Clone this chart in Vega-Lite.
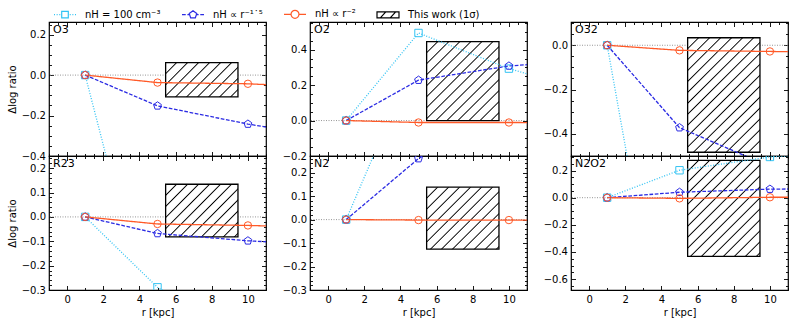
{
"$schema": "https://vega.github.io/schema/vega-lite/v6.json",
"background": "white",
"padding": {"left": 6, "top": 1, "right": 3, "bottom": 3},
"datasets": {
"models": [
{"p":"O3","s":"A","r":1,"v":0},{"p":"O3","s":"A","r":5,"v":-1.38},{"p":"O3","s":"A","r":10,"v":-1.9},
{"p":"O3","s":"B","r":1,"v":0},{"p":"O3","s":"B","r":5,"v":-0.152},{"p":"O3","s":"B","r":10,"v":-0.242},{"p":"O3","s":"B","r":15,"v":-0.317},
{"p":"O3","s":"C","r":1,"v":0},{"p":"O3","s":"C","r":5,"v":-0.037},{"p":"O3","s":"C","r":10,"v":-0.043},{"p":"O3","s":"C","r":15,"v":-0.063},
{"p":"O2","s":"A","r":1,"v":0},{"p":"O2","s":"A","r":5,"v":0.494},{"p":"O2","s":"A","r":10,"v":0.293},{"p":"O2","s":"A","r":15,"v":0.143},
{"p":"O2","s":"B","r":1,"v":0},{"p":"O2","s":"B","r":5,"v":0.228},{"p":"O2","s":"B","r":10,"v":0.308},{"p":"O2","s":"B","r":15,"v":0.343},
{"p":"O2","s":"C","r":1,"v":0},{"p":"O2","s":"C","r":5,"v":-0.011},{"p":"O2","s":"C","r":10,"v":-0.011},{"p":"O2","s":"C","r":15,"v":-0.012},
{"p":"O32","s":"A","r":1,"v":0},{"p":"O32","s":"A","r":5,"v":-1.82},{"p":"O32","s":"A","r":10,"v":-2.6},
{"p":"O32","s":"B","r":1,"v":0},{"p":"O32","s":"B","r":5,"v":-0.372},{"p":"O32","s":"B","r":10,"v":-0.547},
{"p":"O32","s":"C","r":1,"v":0},{"p":"O32","s":"C","r":5,"v":-0.023},{"p":"O32","s":"C","r":10,"v":-0.028},{"p":"O32","s":"C","r":15,"v":-0.033},
{"p":"R23","s":"A","r":1,"v":0},{"p":"R23","s":"A","r":5,"v":-0.289},{"p":"R23","s":"A","r":10,"v":-0.5},
{"p":"R23","s":"B","r":1,"v":0},{"p":"R23","s":"B","r":5,"v":-0.068},{"p":"R23","s":"B","r":10,"v":-0.098},{"p":"R23","s":"B","r":15,"v":-0.118},
{"p":"R23","s":"C","r":1,"v":0},{"p":"R23","s":"C","r":5,"v":-0.029},{"p":"R23","s":"C","r":10,"v":-0.035},{"p":"R23","s":"C","r":15,"v":-0.045},
{"p":"N2","s":"A","r":1,"v":0},{"p":"N2","s":"A","r":5,"v":0.72},{"p":"N2","s":"A","r":10,"v":1.2},
{"p":"N2","s":"B","r":1,"v":0},{"p":"N2","s":"B","r":5,"v":0.26},{"p":"N2","s":"B","r":10,"v":0.5},
{"p":"N2","s":"C","r":1,"v":0},{"p":"N2","s":"C","r":5,"v":-0.002},{"p":"N2","s":"C","r":10,"v":-0.002},{"p":"N2","s":"C","r":15,"v":-0.002},
{"p":"N2O2","s":"A","r":1,"v":0},{"p":"N2O2","s":"A","r":5,"v":0.202},{"p":"N2O2","s":"A","r":10,"v":0.3},{"p":"N2O2","s":"A","r":15,"v":0.34},
{"p":"N2O2","s":"B","r":1,"v":0},{"p":"N2O2","s":"B","r":5,"v":0.04},{"p":"N2O2","s":"B","r":10,"v":0.063},{"p":"N2O2","s":"B","r":15,"v":0.068},
{"p":"N2O2","s":"C","r":1,"v":0},{"p":"N2O2","s":"C","r":5,"v":-0.005},{"p":"N2O2","s":"C","r":10,"v":0.003},{"p":"N2O2","s":"C","r":15,"v":0.004}
],
"obs": [
{"p":"O3","r1":5.45,"r2":9.45,"lo":-0.108,"hi":0.062},
{"p":"O2","r1":5.45,"r2":9.45,"lo":0.0,"hi":0.445},
{"p":"O32","r1":5.45,"r2":9.45,"lo":-0.483,"hi":0.034},
{"p":"R23","r1":5.45,"r2":9.45,"lo":-0.082,"hi":0.134},
{"p":"N2","r1":5.45,"r2":9.45,"lo":-0.126,"hi":0.138},
{"p":"N2O2","r1":5.45,"r2":9.45,"lo":-0.432,"hi":0.275}
]
},
"columns": 3,
"spacing": {"row": 0, "column": 44},
"bounds": "flush",
"resolve": {"legend": {"color": "independent", "shape": "independent"}},
"concat": [
{"width":217,"height":134,
"layer":[
{"data":{"values":[{"v":0}]},"mark":{"type":"rule","stroke":"#8a8a8a","strokeWidth":0.9,"strokeDash":[1,1.5]},"encoding":{"y":{"field":"v","type":"quantitative","scale":{"domain":[-0.4,0.2625],"nice":false,"zero":false},"axis":null}}},
{"data":{"name":"obs"},"transform":[{"filter":"datum.p === 'O3'"}],"mark":{"type":"rect","stroke":"black","strokeWidth":1.3,"fill":{"gradient":"linear","x1":0,"y1":0,"x2":2.49,"y2":1.17,"stops":[{"offset":0,"color":"#fff"},{"offset":0.044,"color":"#fff"},{"offset":0.05,"color":"#000"},{"offset":0.056,"color":"#fff"},{"offset":0.094,"color":"#fff"},{"offset":0.1,"color":"#000"},{"offset":0.106,"color":"#fff"},{"offset":0.144,"color":"#fff"},{"offset":0.15,"color":"#000"},{"offset":0.156,"color":"#fff"},{"offset":0.194,"color":"#fff"},{"offset":0.2,"color":"#000"},{"offset":0.206,"color":"#fff"},{"offset":0.244,"color":"#fff"},{"offset":0.25,"color":"#000"},{"offset":0.256,"color":"#fff"},{"offset":0.294,"color":"#fff"},{"offset":0.3,"color":"#000"},{"offset":0.306,"color":"#fff"},{"offset":0.344,"color":"#fff"},{"offset":0.35,"color":"#000"},{"offset":0.356,"color":"#fff"},{"offset":0.394,"color":"#fff"},{"offset":0.4,"color":"#000"},{"offset":0.406,"color":"#fff"},{"offset":0.444,"color":"#fff"},{"offset":0.45,"color":"#000"},{"offset":0.456,"color":"#fff"},{"offset":0.494,"color":"#fff"},{"offset":0.5,"color":"#000"},{"offset":0.506,"color":"#fff"},{"offset":0.544,"color":"#fff"},{"offset":0.55,"color":"#000"},{"offset":0.556,"color":"#fff"},{"offset":0.594,"color":"#fff"},{"offset":0.6,"color":"#000"},{"offset":0.606,"color":"#fff"},{"offset":0.644,"color":"#fff"},{"offset":0.65,"color":"#000"},{"offset":0.656,"color":"#fff"},{"offset":0.694,"color":"#fff"},{"offset":0.7,"color":"#000"},{"offset":0.706,"color":"#fff"},{"offset":0.744,"color":"#fff"},{"offset":0.75,"color":"#000"},{"offset":0.756,"color":"#fff"},{"offset":0.794,"color":"#fff"},{"offset":0.8,"color":"#000"},{"offset":0.806,"color":"#fff"},{"offset":0.844,"color":"#fff"},{"offset":0.85,"color":"#000"},{"offset":0.856,"color":"#fff"},{"offset":0.894,"color":"#fff"},{"offset":0.9,"color":"#000"},{"offset":0.906,"color":"#fff"},{"offset":0.944,"color":"#fff"},{"offset":0.95,"color":"#000"},{"offset":0.956,"color":"#fff"},{"offset":1,"color":"#fff"}]}},
"encoding":{"x":{"field":"r1","type":"quantitative","scale":{"domain":[-1,11],"nice":false,"zero":false},"axis":{"orient":"top","values":[-1,-0.5,0,0.5,1,1.5,2,2.5,3,3.5,4,4.5,5,5.5,6,6.5,7,7.5,8,8.5,9,9.5,10,10.5,11],"labels":false,"title":null,"tickSize":{"condition":{"test":"datum.value % 2 === 0","value":-4.5},"value":-2.5}}},"x2":{"field":"r2"},
"y":{"field":"lo","type":"quantitative","scale":{"domain":[-0.4,0.2625],"nice":false,"zero":false},"axis":{"orient":"right","values":[-0.4,-0.35,-0.3,-0.25,-0.2,-0.15,-0.1,-0.05,0,0.05,0.1,0.15,0.2,0.25],"labels":false,"title":null,"tickSize":{"condition":{"test":"abs(datum.value*5-round(datum.value*5))<1e-6","value":-4.5},"value":-2.5}}},"y2":{"field":"hi"}}},
{"data":{"name":"models"},"transform":[{"filter":"datum.p === 'O3'"}],"mark":{"type":"line","clip":true,"strokeWidth":1.3},
"encoding":{"x":{"field":"r","type":"quantitative","scale":{"domain":[-1,11],"nice":false,"zero":false},"axis":{"orient":"bottom","values":[-1,-0.5,0,0.5,1,1.5,2,2.5,3,3.5,4,4.5,5,5.5,6,6.5,7,7.5,8,8.5,9,9.5,10,10.5,11],"labels":false,"title":null,"tickSize":{"condition":{"test":"datum.value % 2 === 0","value":-4.5},"value":-2.5}}},
"y":{"field":"v","type":"quantitative","scale":{"domain":[-0.4,0.2625],"nice":false,"zero":false},"axis":{"orient":"left","values":[-0.4,-0.35,-0.3,-0.25,-0.2,-0.15,-0.1,-0.05,0,0.05,0.1,0.15,0.2,0.25],"format":".1f","labelExpr":"abs(datum.value*5-round(datum.value*5))<1e-6 ? datum.label : ''","title":"Δlog ratio","tickSize":{"condition":{"test":"abs(datum.value*5-round(datum.value*5))<1e-6","value":-4.5},"value":-2.5}}},
"color":{"field":"s","type":"nominal","scale":{"domain":["A","B","C","D"],"range":["#33c3f3","#2b2be3","#ff5a28","#000000"]}},
"strokeDash":{"field":"s","type":"nominal","scale":{"domain":["A","B","C","D"],"range":[[1,1.65],[3.7,1.6],[1,0],[1,0]]},"legend":null}}},
{"data":{"name":"models"},"transform":[{"filter":"datum.p === 'O3'"}],"mark":{"type":"point","clip":true,"filled":false,"size":55,"strokeWidth":1,"opacity":1},
"encoding":{"x":{"field":"r","type":"quantitative","scale":{"domain":[-1,11],"nice":false,"zero":false},"axis":null},
"y":{"field":"v","type":"quantitative","scale":{"domain":[-0.4,0.2625],"nice":false,"zero":false},"axis":null},
"color":{"field":"s","type":"nominal","scale":{"domain":["A","B","C","D"],"range":["#33c3f3","#2b2be3","#ff5a28","#000000"]},"legend":{"orient":"none","legendX":4,"legendY":-20,"direction":"horizontal","title":null,"labelExpr":"datum.value === 'A' ? 'nH = 100 cm⁻³' : datum.value === 'B' ? 'nH ∝ r⁻¹˙⁵' : datum.value === 'C' ? 'nH ∝ r⁻²' : 'This work (1σ)'","symbolSize":484,"symbolStrokeWidth":1.2,"symbolFillColor":"transparent","labelOffset":8,"columnPadding":18,"labelFontSize":10,"padding":0,"encoding":{"symbols":{"shape":{"condition":[{"test":"datum.value === 'A'","value":"M-1,0H-0.91M-0.76,0H-0.67M-0.52,0H-0.43M0.43,0H0.52M0.67,0H0.76M0.91,0H1M-0.3,-0.3H0.3V0.3H-0.3Z"},{"test":"datum.value === 'B'","value":"M-1,0H-0.66M-0.51,0H-0.34M0.34,0H0.51M0.66,0H1M0,-0.36L0.342,-0.111L0.212,0.291L-0.212,0.291L-0.342,-0.111Z"},{"test":"datum.value === 'C'","value":"M-1,0H-0.36M0.36,0H1M0.36,0A0.36,0.36,0,1,1,-0.36,0A0.36,0.36,0,1,1,0.36,0Z"}],"value":"M-1,-0.27H1V0.27H-1ZM-0.7,0.27L-0.2,-0.27M0.2,0.27L0.7,-0.27"}}}}},
"shape":{"field":"s","type":"nominal","scale":{"domain":["A","B","C"],"range":["square","M0,-1.1L1.046,-0.34L0.647,0.89L-0.647,0.89L-1.046,-0.34Z","circle"]},"legend":null}}},
{"data":{"values":[{"t":"O3"}]},"mark":{"type":"text","align":"left","baseline":"top","dx":4,"dy":2,"fontSize":11,"color":"black"},"encoding":{"x":{"datum":-1,"type":"quantitative","scale":{"domain":[-1,11],"nice":false,"zero":false},"axis":null},"y":{"datum":0.2625,"type":"quantitative","scale":{"domain":[-0.4,0.2625],"nice":false,"zero":false},"axis":null},"text":{"field":"t"}}}
]},
{"width":217,"height":134,
"layer":[
{"data":{"values":[{"v":0}]},"mark":{"type":"rule","stroke":"#8a8a8a","strokeWidth":0.9,"strokeDash":[1,1.5]},"encoding":{"y":{"field":"v","type":"quantitative","scale":{"domain":[-0.2,0.556],"nice":false,"zero":false},"axis":null}}},
{"data":{"name":"obs"},"transform":[{"filter":"datum.p === 'O2'"}],"mark":{"type":"rect","stroke":"black","strokeWidth":1.3,"fill":{"gradient":"linear","x1":0,"y1":0,"x2":1.39,"y2":1.52,"stops":[{"offset":0,"color":"#fff"},{"offset":0.044,"color":"#fff"},{"offset":0.05,"color":"#000"},{"offset":0.056,"color":"#fff"},{"offset":0.094,"color":"#fff"},{"offset":0.1,"color":"#000"},{"offset":0.106,"color":"#fff"},{"offset":0.144,"color":"#fff"},{"offset":0.15,"color":"#000"},{"offset":0.156,"color":"#fff"},{"offset":0.194,"color":"#fff"},{"offset":0.2,"color":"#000"},{"offset":0.206,"color":"#fff"},{"offset":0.244,"color":"#fff"},{"offset":0.25,"color":"#000"},{"offset":0.256,"color":"#fff"},{"offset":0.294,"color":"#fff"},{"offset":0.3,"color":"#000"},{"offset":0.306,"color":"#fff"},{"offset":0.344,"color":"#fff"},{"offset":0.35,"color":"#000"},{"offset":0.356,"color":"#fff"},{"offset":0.394,"color":"#fff"},{"offset":0.4,"color":"#000"},{"offset":0.406,"color":"#fff"},{"offset":0.444,"color":"#fff"},{"offset":0.45,"color":"#000"},{"offset":0.456,"color":"#fff"},{"offset":0.494,"color":"#fff"},{"offset":0.5,"color":"#000"},{"offset":0.506,"color":"#fff"},{"offset":0.544,"color":"#fff"},{"offset":0.55,"color":"#000"},{"offset":0.556,"color":"#fff"},{"offset":0.594,"color":"#fff"},{"offset":0.6,"color":"#000"},{"offset":0.606,"color":"#fff"},{"offset":0.644,"color":"#fff"},{"offset":0.65,"color":"#000"},{"offset":0.656,"color":"#fff"},{"offset":0.694,"color":"#fff"},{"offset":0.7,"color":"#000"},{"offset":0.706,"color":"#fff"},{"offset":0.744,"color":"#fff"},{"offset":0.75,"color":"#000"},{"offset":0.756,"color":"#fff"},{"offset":0.794,"color":"#fff"},{"offset":0.8,"color":"#000"},{"offset":0.806,"color":"#fff"},{"offset":0.844,"color":"#fff"},{"offset":0.85,"color":"#000"},{"offset":0.856,"color":"#fff"},{"offset":0.894,"color":"#fff"},{"offset":0.9,"color":"#000"},{"offset":0.906,"color":"#fff"},{"offset":0.944,"color":"#fff"},{"offset":0.95,"color":"#000"},{"offset":0.956,"color":"#fff"},{"offset":1,"color":"#fff"}]}},
"encoding":{"x":{"field":"r1","type":"quantitative","scale":{"domain":[-1,11],"nice":false,"zero":false},"axis":{"orient":"top","values":[-1,-0.5,0,0.5,1,1.5,2,2.5,3,3.5,4,4.5,5,5.5,6,6.5,7,7.5,8,8.5,9,9.5,10,10.5,11],"labels":false,"title":null,"tickSize":{"condition":{"test":"datum.value % 2 === 0","value":-4.5},"value":-2.5}}},"x2":{"field":"r2"},
"y":{"field":"lo","type":"quantitative","scale":{"domain":[-0.2,0.556],"nice":false,"zero":false},"axis":{"orient":"right","values":[-0.2,-0.15,-0.1,-0.05,0,0.05,0.1,0.15,0.2,0.25,0.3,0.35,0.4,0.45,0.5,0.55],"labels":false,"title":null,"tickSize":{"condition":{"test":"abs(datum.value*5-round(datum.value*5))<1e-6","value":-4.5},"value":-2.5}}},"y2":{"field":"hi"}}},
{"data":{"name":"models"},"transform":[{"filter":"datum.p === 'O2'"}],"mark":{"type":"line","clip":true,"strokeWidth":1.3},
"encoding":{"x":{"field":"r","type":"quantitative","scale":{"domain":[-1,11],"nice":false,"zero":false},"axis":{"orient":"bottom","values":[-1,-0.5,0,0.5,1,1.5,2,2.5,3,3.5,4,4.5,5,5.5,6,6.5,7,7.5,8,8.5,9,9.5,10,10.5,11],"labels":false,"title":null,"tickSize":{"condition":{"test":"datum.value % 2 === 0","value":-4.5},"value":-2.5}}},
"y":{"field":"v","type":"quantitative","scale":{"domain":[-0.2,0.556],"nice":false,"zero":false},"axis":{"orient":"left","values":[-0.2,-0.15,-0.1,-0.05,0,0.05,0.1,0.15,0.2,0.25,0.3,0.35,0.4,0.45,0.5,0.55],"format":".1f","labelExpr":"abs(datum.value*5-round(datum.value*5))<1e-6 ? datum.label : ''","title":null,"tickSize":{"condition":{"test":"abs(datum.value*5-round(datum.value*5))<1e-6","value":-4.5},"value":-2.5}}},
"color":{"field":"s","type":"nominal","scale":{"domain":["A","B","C","D"],"range":["#33c3f3","#2b2be3","#ff5a28","#000000"]},"legend":null},
"strokeDash":{"field":"s","type":"nominal","scale":{"domain":["A","B","C","D"],"range":[[1,1.65],[3.7,1.6],[1,0],[1,0]]},"legend":null}}},
{"data":{"name":"models"},"transform":[{"filter":"datum.p === 'O2'"}],"mark":{"type":"point","clip":true,"filled":false,"size":55,"strokeWidth":1,"opacity":1},
"encoding":{"x":{"field":"r","type":"quantitative","scale":{"domain":[-1,11],"nice":false,"zero":false},"axis":null},
"y":{"field":"v","type":"quantitative","scale":{"domain":[-0.2,0.556],"nice":false,"zero":false},"axis":null},
"color":{"field":"s","type":"nominal","scale":{"domain":["A","B","C","D"],"range":["#33c3f3","#2b2be3","#ff5a28","#000000"]},"legend":null},
"shape":{"field":"s","type":"nominal","scale":{"domain":["A","B","C"],"range":["square","M0,-1.1L1.046,-0.34L0.647,0.89L-0.647,0.89L-1.046,-0.34Z","circle"]},"legend":null}}},
{"data":{"values":[{"t":"O2"}]},"mark":{"type":"text","align":"left","baseline":"top","dx":4,"dy":2,"fontSize":11,"color":"black"},"encoding":{"x":{"datum":-1,"type":"quantitative","scale":{"domain":[-1,11],"nice":false,"zero":false},"axis":null},"y":{"datum":0.556,"type":"quantitative","scale":{"domain":[-0.2,0.556],"nice":false,"zero":false},"axis":null},"text":{"field":"t"}}}
]},
{"width":217,"height":134,
"layer":[
{"data":{"values":[{"v":0}]},"mark":{"type":"rule","stroke":"#8a8a8a","strokeWidth":0.9,"strokeDash":[1,1.5]},"encoding":{"y":{"field":"v","type":"quantitative","scale":{"domain":[-0.5,0.105],"nice":false,"zero":false},"axis":null}}},
{"data":{"name":"obs"},"transform":[{"filter":"datum.p === 'O32'"}],"mark":{"type":"rect","stroke":"black","strokeWidth":1.3,"fill":{"gradient":"linear","x1":0,"y1":0,"x2":0.86,"y2":1.37,"stops":[{"offset":0,"color":"#fff"},{"offset":0.044,"color":"#fff"},{"offset":0.05,"color":"#000"},{"offset":0.056,"color":"#fff"},{"offset":0.094,"color":"#fff"},{"offset":0.1,"color":"#000"},{"offset":0.106,"color":"#fff"},{"offset":0.144,"color":"#fff"},{"offset":0.15,"color":"#000"},{"offset":0.156,"color":"#fff"},{"offset":0.194,"color":"#fff"},{"offset":0.2,"color":"#000"},{"offset":0.206,"color":"#fff"},{"offset":0.244,"color":"#fff"},{"offset":0.25,"color":"#000"},{"offset":0.256,"color":"#fff"},{"offset":0.294,"color":"#fff"},{"offset":0.3,"color":"#000"},{"offset":0.306,"color":"#fff"},{"offset":0.344,"color":"#fff"},{"offset":0.35,"color":"#000"},{"offset":0.356,"color":"#fff"},{"offset":0.394,"color":"#fff"},{"offset":0.4,"color":"#000"},{"offset":0.406,"color":"#fff"},{"offset":0.444,"color":"#fff"},{"offset":0.45,"color":"#000"},{"offset":0.456,"color":"#fff"},{"offset":0.494,"color":"#fff"},{"offset":0.5,"color":"#000"},{"offset":0.506,"color":"#fff"},{"offset":0.544,"color":"#fff"},{"offset":0.55,"color":"#000"},{"offset":0.556,"color":"#fff"},{"offset":0.594,"color":"#fff"},{"offset":0.6,"color":"#000"},{"offset":0.606,"color":"#fff"},{"offset":0.644,"color":"#fff"},{"offset":0.65,"color":"#000"},{"offset":0.656,"color":"#fff"},{"offset":0.694,"color":"#fff"},{"offset":0.7,"color":"#000"},{"offset":0.706,"color":"#fff"},{"offset":0.744,"color":"#fff"},{"offset":0.75,"color":"#000"},{"offset":0.756,"color":"#fff"},{"offset":0.794,"color":"#fff"},{"offset":0.8,"color":"#000"},{"offset":0.806,"color":"#fff"},{"offset":0.844,"color":"#fff"},{"offset":0.85,"color":"#000"},{"offset":0.856,"color":"#fff"},{"offset":0.894,"color":"#fff"},{"offset":0.9,"color":"#000"},{"offset":0.906,"color":"#fff"},{"offset":0.944,"color":"#fff"},{"offset":0.95,"color":"#000"},{"offset":0.956,"color":"#fff"},{"offset":1,"color":"#fff"}]}},
"encoding":{"x":{"field":"r1","type":"quantitative","scale":{"domain":[-1,11],"nice":false,"zero":false},"axis":{"orient":"top","values":[-1,-0.5,0,0.5,1,1.5,2,2.5,3,3.5,4,4.5,5,5.5,6,6.5,7,7.5,8,8.5,9,9.5,10,10.5,11],"labels":false,"title":null,"tickSize":{"condition":{"test":"datum.value % 2 === 0","value":-4.5},"value":-2.5}}},"x2":{"field":"r2"},
"y":{"field":"lo","type":"quantitative","scale":{"domain":[-0.5,0.105],"nice":false,"zero":false},"axis":{"orient":"right","values":[-0.5,-0.45,-0.4,-0.35,-0.3,-0.25,-0.2,-0.15,-0.1,-0.05,0,0.05,0.1],"labels":false,"title":null,"tickSize":{"condition":{"test":"abs(datum.value*5-round(datum.value*5))<1e-6","value":-4.5},"value":-2.5}}},"y2":{"field":"hi"}}},
{"data":{"name":"models"},"transform":[{"filter":"datum.p === 'O32'"}],"mark":{"type":"line","clip":true,"strokeWidth":1.3},
"encoding":{"x":{"field":"r","type":"quantitative","scale":{"domain":[-1,11],"nice":false,"zero":false},"axis":{"orient":"bottom","values":[-1,-0.5,0,0.5,1,1.5,2,2.5,3,3.5,4,4.5,5,5.5,6,6.5,7,7.5,8,8.5,9,9.5,10,10.5,11],"labels":false,"title":null,"tickSize":{"condition":{"test":"datum.value % 2 === 0","value":-4.5},"value":-2.5}}},
"y":{"field":"v","type":"quantitative","scale":{"domain":[-0.5,0.105],"nice":false,"zero":false},"axis":{"orient":"left","values":[-0.5,-0.45,-0.4,-0.35,-0.3,-0.25,-0.2,-0.15,-0.1,-0.05,0,0.05,0.1],"format":".1f","labelExpr":"abs(datum.value*5-round(datum.value*5))<1e-6 ? datum.label : ''","title":null,"tickSize":{"condition":{"test":"abs(datum.value*5-round(datum.value*5))<1e-6","value":-4.5},"value":-2.5}}},
"color":{"field":"s","type":"nominal","scale":{"domain":["A","B","C","D"],"range":["#33c3f3","#2b2be3","#ff5a28","#000000"]},"legend":null},
"strokeDash":{"field":"s","type":"nominal","scale":{"domain":["A","B","C","D"],"range":[[1,1.65],[3.7,1.6],[1,0],[1,0]]},"legend":null}}},
{"data":{"name":"models"},"transform":[{"filter":"datum.p === 'O32'"}],"mark":{"type":"point","clip":true,"filled":false,"size":55,"strokeWidth":1,"opacity":1},
"encoding":{"x":{"field":"r","type":"quantitative","scale":{"domain":[-1,11],"nice":false,"zero":false},"axis":null},
"y":{"field":"v","type":"quantitative","scale":{"domain":[-0.5,0.105],"nice":false,"zero":false},"axis":null},
"color":{"field":"s","type":"nominal","scale":{"domain":["A","B","C","D"],"range":["#33c3f3","#2b2be3","#ff5a28","#000000"]},"legend":null},
"shape":{"field":"s","type":"nominal","scale":{"domain":["A","B","C"],"range":["square","M0,-1.1L1.046,-0.34L0.647,0.89L-0.647,0.89L-1.046,-0.34Z","circle"]},"legend":null}}},
{"data":{"values":[{"t":"O32"}]},"mark":{"type":"text","align":"left","baseline":"top","dx":4,"dy":2,"fontSize":11,"color":"black"},"encoding":{"x":{"datum":-1,"type":"quantitative","scale":{"domain":[-1,11],"nice":false,"zero":false},"axis":null},"y":{"datum":0.105,"type":"quantitative","scale":{"domain":[-0.5,0.105],"nice":false,"zero":false},"axis":null},"text":{"field":"t"}}}
]},
{"width":217,"height":134,
"layer":[
{"data":{"values":[{"v":0}]},"mark":{"type":"rule","stroke":"#8a8a8a","strokeWidth":0.9,"strokeDash":[1,1.5]},"encoding":{"y":{"field":"v","type":"quantitative","scale":{"domain":[-0.3,0.25],"nice":false,"zero":false},"axis":null}}},
{"data":{"name":"obs"},"transform":[{"filter":"datum.p === 'R23'"}],"mark":{"type":"rect","stroke":"black","strokeWidth":1.3,"fill":{"gradient":"linear","x1":0,"y1":0,"x2":2.0,"y2":1.44,"stops":[{"offset":0,"color":"#fff"},{"offset":0.044,"color":"#fff"},{"offset":0.05,"color":"#000"},{"offset":0.056,"color":"#fff"},{"offset":0.094,"color":"#fff"},{"offset":0.1,"color":"#000"},{"offset":0.106,"color":"#fff"},{"offset":0.144,"color":"#fff"},{"offset":0.15,"color":"#000"},{"offset":0.156,"color":"#fff"},{"offset":0.194,"color":"#fff"},{"offset":0.2,"color":"#000"},{"offset":0.206,"color":"#fff"},{"offset":0.244,"color":"#fff"},{"offset":0.25,"color":"#000"},{"offset":0.256,"color":"#fff"},{"offset":0.294,"color":"#fff"},{"offset":0.3,"color":"#000"},{"offset":0.306,"color":"#fff"},{"offset":0.344,"color":"#fff"},{"offset":0.35,"color":"#000"},{"offset":0.356,"color":"#fff"},{"offset":0.394,"color":"#fff"},{"offset":0.4,"color":"#000"},{"offset":0.406,"color":"#fff"},{"offset":0.444,"color":"#fff"},{"offset":0.45,"color":"#000"},{"offset":0.456,"color":"#fff"},{"offset":0.494,"color":"#fff"},{"offset":0.5,"color":"#000"},{"offset":0.506,"color":"#fff"},{"offset":0.544,"color":"#fff"},{"offset":0.55,"color":"#000"},{"offset":0.556,"color":"#fff"},{"offset":0.594,"color":"#fff"},{"offset":0.6,"color":"#000"},{"offset":0.606,"color":"#fff"},{"offset":0.644,"color":"#fff"},{"offset":0.65,"color":"#000"},{"offset":0.656,"color":"#fff"},{"offset":0.694,"color":"#fff"},{"offset":0.7,"color":"#000"},{"offset":0.706,"color":"#fff"},{"offset":0.744,"color":"#fff"},{"offset":0.75,"color":"#000"},{"offset":0.756,"color":"#fff"},{"offset":0.794,"color":"#fff"},{"offset":0.8,"color":"#000"},{"offset":0.806,"color":"#fff"},{"offset":0.844,"color":"#fff"},{"offset":0.85,"color":"#000"},{"offset":0.856,"color":"#fff"},{"offset":0.894,"color":"#fff"},{"offset":0.9,"color":"#000"},{"offset":0.906,"color":"#fff"},{"offset":0.944,"color":"#fff"},{"offset":0.95,"color":"#000"},{"offset":0.956,"color":"#fff"},{"offset":1,"color":"#fff"}]}},
"encoding":{"x":{"field":"r1","type":"quantitative","scale":{"domain":[-1,11],"nice":false,"zero":false},"axis":{"orient":"top","values":[-1,-0.5,0,0.5,1,1.5,2,2.5,3,3.5,4,4.5,5,5.5,6,6.5,7,7.5,8,8.5,9,9.5,10,10.5,11],"labels":false,"title":null,"tickSize":{"condition":{"test":"datum.value % 2 === 0","value":-4.5},"value":-2.5}}},"x2":{"field":"r2"},
"y":{"field":"lo","type":"quantitative","scale":{"domain":[-0.3,0.25],"nice":false,"zero":false},"axis":{"orient":"right","values":[-0.3,-0.28,-0.26,-0.24,-0.22,-0.2,-0.18,-0.16,-0.14,-0.12,-0.1,-0.08,-0.06,-0.04,-0.02,0,0.02,0.04,0.06,0.08,0.1,0.12,0.14,0.16,0.18,0.2,0.22,0.24],"labels":false,"title":null,"tickSize":{"condition":{"test":"abs(datum.value*10-round(datum.value*10))<1e-6","value":-4.5},"value":-2.5}}},"y2":{"field":"hi"}}},
{"data":{"name":"models"},"transform":[{"filter":"datum.p === 'R23'"}],"mark":{"type":"line","clip":true,"strokeWidth":1.3},
"encoding":{"x":{"field":"r","type":"quantitative","scale":{"domain":[-1,11],"nice":false,"zero":false},"axis":{"orient":"bottom","values":[-1,-0.5,0,0.5,1,1.5,2,2.5,3,3.5,4,4.5,5,5.5,6,6.5,7,7.5,8,8.5,9,9.5,10,10.5,11],"format":"d","labelExpr":"datum.value % 2 === 0 ? datum.label : ''","title":"r [kpc]","tickSize":{"condition":{"test":"datum.value % 2 === 0","value":-4.5},"value":-2.5}}},
"y":{"field":"v","type":"quantitative","scale":{"domain":[-0.3,0.25],"nice":false,"zero":false},"axis":{"orient":"left","values":[-0.3,-0.28,-0.26,-0.24,-0.22,-0.2,-0.18,-0.16,-0.14,-0.12,-0.1,-0.08,-0.06,-0.04,-0.02,0,0.02,0.04,0.06,0.08,0.1,0.12,0.14,0.16,0.18,0.2,0.22,0.24],"format":".1f","labelExpr":"abs(datum.value*10-round(datum.value*10))<1e-6 ? datum.label : ''","title":"Δlog ratio","tickSize":{"condition":{"test":"abs(datum.value*10-round(datum.value*10))<1e-6","value":-4.5},"value":-2.5}}},
"color":{"field":"s","type":"nominal","scale":{"domain":["A","B","C","D"],"range":["#33c3f3","#2b2be3","#ff5a28","#000000"]},"legend":null},
"strokeDash":{"field":"s","type":"nominal","scale":{"domain":["A","B","C","D"],"range":[[1,1.65],[3.7,1.6],[1,0],[1,0]]},"legend":null}}},
{"data":{"name":"models"},"transform":[{"filter":"datum.p === 'R23'"}],"mark":{"type":"point","clip":true,"filled":false,"size":55,"strokeWidth":1,"opacity":1},
"encoding":{"x":{"field":"r","type":"quantitative","scale":{"domain":[-1,11],"nice":false,"zero":false},"axis":null},
"y":{"field":"v","type":"quantitative","scale":{"domain":[-0.3,0.25],"nice":false,"zero":false},"axis":null},
"color":{"field":"s","type":"nominal","scale":{"domain":["A","B","C","D"],"range":["#33c3f3","#2b2be3","#ff5a28","#000000"]},"legend":null},
"shape":{"field":"s","type":"nominal","scale":{"domain":["A","B","C"],"range":["square","M0,-1.1L1.046,-0.34L0.647,0.89L-0.647,0.89L-1.046,-0.34Z","circle"]},"legend":null}}},
{"data":{"values":[{"t":"R23"}]},"mark":{"type":"text","align":"left","baseline":"top","dx":4,"dy":2,"fontSize":11,"color":"black"},"encoding":{"x":{"datum":-1,"type":"quantitative","scale":{"domain":[-1,11],"nice":false,"zero":false},"axis":null},"y":{"datum":0.25,"type":"quantitative","scale":{"domain":[-0.3,0.25],"nice":false,"zero":false},"axis":null},"text":{"field":"t"}}}
]},
{"width":217,"height":134,
"layer":[
{"data":{"values":[{"v":0}]},"mark":{"type":"rule","stroke":"#8a8a8a","strokeWidth":0.9,"strokeDash":[1,1.5]},"encoding":{"y":{"field":"v","type":"quantitative","scale":{"domain":[-0.3,0.271],"nice":false,"zero":false},"axis":null}}},
{"data":{"name":"obs"},"transform":[{"filter":"datum.p === 'N2'"}],"mark":{"type":"rect","stroke":"black","strokeWidth":1.3,"fill":{"gradient":"linear","x1":0,"y1":0,"x2":1.75,"y2":1.5,"stops":[{"offset":0,"color":"#fff"},{"offset":0.044,"color":"#fff"},{"offset":0.05,"color":"#000"},{"offset":0.056,"color":"#fff"},{"offset":0.094,"color":"#fff"},{"offset":0.1,"color":"#000"},{"offset":0.106,"color":"#fff"},{"offset":0.144,"color":"#fff"},{"offset":0.15,"color":"#000"},{"offset":0.156,"color":"#fff"},{"offset":0.194,"color":"#fff"},{"offset":0.2,"color":"#000"},{"offset":0.206,"color":"#fff"},{"offset":0.244,"color":"#fff"},{"offset":0.25,"color":"#000"},{"offset":0.256,"color":"#fff"},{"offset":0.294,"color":"#fff"},{"offset":0.3,"color":"#000"},{"offset":0.306,"color":"#fff"},{"offset":0.344,"color":"#fff"},{"offset":0.35,"color":"#000"},{"offset":0.356,"color":"#fff"},{"offset":0.394,"color":"#fff"},{"offset":0.4,"color":"#000"},{"offset":0.406,"color":"#fff"},{"offset":0.444,"color":"#fff"},{"offset":0.45,"color":"#000"},{"offset":0.456,"color":"#fff"},{"offset":0.494,"color":"#fff"},{"offset":0.5,"color":"#000"},{"offset":0.506,"color":"#fff"},{"offset":0.544,"color":"#fff"},{"offset":0.55,"color":"#000"},{"offset":0.556,"color":"#fff"},{"offset":0.594,"color":"#fff"},{"offset":0.6,"color":"#000"},{"offset":0.606,"color":"#fff"},{"offset":0.644,"color":"#fff"},{"offset":0.65,"color":"#000"},{"offset":0.656,"color":"#fff"},{"offset":0.694,"color":"#fff"},{"offset":0.7,"color":"#000"},{"offset":0.706,"color":"#fff"},{"offset":0.744,"color":"#fff"},{"offset":0.75,"color":"#000"},{"offset":0.756,"color":"#fff"},{"offset":0.794,"color":"#fff"},{"offset":0.8,"color":"#000"},{"offset":0.806,"color":"#fff"},{"offset":0.844,"color":"#fff"},{"offset":0.85,"color":"#000"},{"offset":0.856,"color":"#fff"},{"offset":0.894,"color":"#fff"},{"offset":0.9,"color":"#000"},{"offset":0.906,"color":"#fff"},{"offset":0.944,"color":"#fff"},{"offset":0.95,"color":"#000"},{"offset":0.956,"color":"#fff"},{"offset":1,"color":"#fff"}]}},
"encoding":{"x":{"field":"r1","type":"quantitative","scale":{"domain":[-1,11],"nice":false,"zero":false},"axis":{"orient":"top","values":[-1,-0.5,0,0.5,1,1.5,2,2.5,3,3.5,4,4.5,5,5.5,6,6.5,7,7.5,8,8.5,9,9.5,10,10.5,11],"labels":false,"title":null,"tickSize":{"condition":{"test":"datum.value % 2 === 0","value":-4.5},"value":-2.5}}},"x2":{"field":"r2"},
"y":{"field":"lo","type":"quantitative","scale":{"domain":[-0.3,0.271],"nice":false,"zero":false},"axis":{"orient":"right","values":[-0.3,-0.28,-0.26,-0.24,-0.22,-0.2,-0.18,-0.16,-0.14,-0.12,-0.1,-0.08,-0.06,-0.04,-0.02,0,0.02,0.04,0.06,0.08,0.1,0.12,0.14,0.16,0.18,0.2,0.22,0.24,0.26],"labels":false,"title":null,"tickSize":{"condition":{"test":"abs(datum.value*10-round(datum.value*10))<1e-6","value":-4.5},"value":-2.5}}},"y2":{"field":"hi"}}},
{"data":{"name":"models"},"transform":[{"filter":"datum.p === 'N2'"}],"mark":{"type":"line","clip":true,"strokeWidth":1.3},
"encoding":{"x":{"field":"r","type":"quantitative","scale":{"domain":[-1,11],"nice":false,"zero":false},"axis":{"orient":"bottom","values":[-1,-0.5,0,0.5,1,1.5,2,2.5,3,3.5,4,4.5,5,5.5,6,6.5,7,7.5,8,8.5,9,9.5,10,10.5,11],"format":"d","labelExpr":"datum.value % 2 === 0 ? datum.label : ''","title":"r [kpc]","tickSize":{"condition":{"test":"datum.value % 2 === 0","value":-4.5},"value":-2.5}}},
"y":{"field":"v","type":"quantitative","scale":{"domain":[-0.3,0.271],"nice":false,"zero":false},"axis":{"orient":"left","values":[-0.3,-0.28,-0.26,-0.24,-0.22,-0.2,-0.18,-0.16,-0.14,-0.12,-0.1,-0.08,-0.06,-0.04,-0.02,0,0.02,0.04,0.06,0.08,0.1,0.12,0.14,0.16,0.18,0.2,0.22,0.24,0.26],"format":".1f","labelExpr":"abs(datum.value*10-round(datum.value*10))<1e-6 ? datum.label : ''","title":null,"tickSize":{"condition":{"test":"abs(datum.value*10-round(datum.value*10))<1e-6","value":-4.5},"value":-2.5}}},
"color":{"field":"s","type":"nominal","scale":{"domain":["A","B","C","D"],"range":["#33c3f3","#2b2be3","#ff5a28","#000000"]},"legend":null},
"strokeDash":{"field":"s","type":"nominal","scale":{"domain":["A","B","C","D"],"range":[[1,1.65],[3.7,1.6],[1,0],[1,0]]},"legend":null}}},
{"data":{"name":"models"},"transform":[{"filter":"datum.p === 'N2'"}],"mark":{"type":"point","clip":true,"filled":false,"size":55,"strokeWidth":1,"opacity":1},
"encoding":{"x":{"field":"r","type":"quantitative","scale":{"domain":[-1,11],"nice":false,"zero":false},"axis":null},
"y":{"field":"v","type":"quantitative","scale":{"domain":[-0.3,0.271],"nice":false,"zero":false},"axis":null},
"color":{"field":"s","type":"nominal","scale":{"domain":["A","B","C","D"],"range":["#33c3f3","#2b2be3","#ff5a28","#000000"]},"legend":null},
"shape":{"field":"s","type":"nominal","scale":{"domain":["A","B","C"],"range":["square","M0,-1.1L1.046,-0.34L0.647,0.89L-0.647,0.89L-1.046,-0.34Z","circle"]},"legend":null}}},
{"data":{"values":[{"t":"N2"}]},"mark":{"type":"text","align":"left","baseline":"top","dx":4,"dy":2,"fontSize":11,"color":"black"},"encoding":{"x":{"datum":-1,"type":"quantitative","scale":{"domain":[-1,11],"nice":false,"zero":false},"axis":null},"y":{"datum":0.271,"type":"quantitative","scale":{"domain":[-0.3,0.271],"nice":false,"zero":false},"axis":null},"text":{"field":"t"}}}
]},
{"width":217,"height":134,
"layer":[
{"data":{"values":[{"v":0}]},"mark":{"type":"rule","stroke":"#8a8a8a","strokeWidth":0.9,"strokeDash":[1,1.5]},"encoding":{"y":{"field":"v","type":"quantitative","scale":{"domain":[-0.68,0.307],"nice":false,"zero":false},"axis":null}}},
{"data":{"name":"obs"},"transform":[{"filter":"datum.p === 'N2O2'"}],"mark":{"type":"rect","stroke":"black","strokeWidth":1.3,"fill":{"gradient":"linear","x1":0,"y1":0,"x2":1.1,"y2":1.46,"stops":[{"offset":0,"color":"#fff"},{"offset":0.044,"color":"#fff"},{"offset":0.05,"color":"#000"},{"offset":0.056,"color":"#fff"},{"offset":0.094,"color":"#fff"},{"offset":0.1,"color":"#000"},{"offset":0.106,"color":"#fff"},{"offset":0.144,"color":"#fff"},{"offset":0.15,"color":"#000"},{"offset":0.156,"color":"#fff"},{"offset":0.194,"color":"#fff"},{"offset":0.2,"color":"#000"},{"offset":0.206,"color":"#fff"},{"offset":0.244,"color":"#fff"},{"offset":0.25,"color":"#000"},{"offset":0.256,"color":"#fff"},{"offset":0.294,"color":"#fff"},{"offset":0.3,"color":"#000"},{"offset":0.306,"color":"#fff"},{"offset":0.344,"color":"#fff"},{"offset":0.35,"color":"#000"},{"offset":0.356,"color":"#fff"},{"offset":0.394,"color":"#fff"},{"offset":0.4,"color":"#000"},{"offset":0.406,"color":"#fff"},{"offset":0.444,"color":"#fff"},{"offset":0.45,"color":"#000"},{"offset":0.456,"color":"#fff"},{"offset":0.494,"color":"#fff"},{"offset":0.5,"color":"#000"},{"offset":0.506,"color":"#fff"},{"offset":0.544,"color":"#fff"},{"offset":0.55,"color":"#000"},{"offset":0.556,"color":"#fff"},{"offset":0.594,"color":"#fff"},{"offset":0.6,"color":"#000"},{"offset":0.606,"color":"#fff"},{"offset":0.644,"color":"#fff"},{"offset":0.65,"color":"#000"},{"offset":0.656,"color":"#fff"},{"offset":0.694,"color":"#fff"},{"offset":0.7,"color":"#000"},{"offset":0.706,"color":"#fff"},{"offset":0.744,"color":"#fff"},{"offset":0.75,"color":"#000"},{"offset":0.756,"color":"#fff"},{"offset":0.794,"color":"#fff"},{"offset":0.8,"color":"#000"},{"offset":0.806,"color":"#fff"},{"offset":0.844,"color":"#fff"},{"offset":0.85,"color":"#000"},{"offset":0.856,"color":"#fff"},{"offset":0.894,"color":"#fff"},{"offset":0.9,"color":"#000"},{"offset":0.906,"color":"#fff"},{"offset":0.944,"color":"#fff"},{"offset":0.95,"color":"#000"},{"offset":0.956,"color":"#fff"},{"offset":1,"color":"#fff"}]}},
"encoding":{"x":{"field":"r1","type":"quantitative","scale":{"domain":[-1,11],"nice":false,"zero":false},"axis":{"orient":"top","values":[-1,-0.5,0,0.5,1,1.5,2,2.5,3,3.5,4,4.5,5,5.5,6,6.5,7,7.5,8,8.5,9,9.5,10,10.5,11],"labels":false,"title":null,"tickSize":{"condition":{"test":"datum.value % 2 === 0","value":-4.5},"value":-2.5}}},"x2":{"field":"r2"},
"y":{"field":"lo","type":"quantitative","scale":{"domain":[-0.68,0.307],"nice":false,"zero":false},"axis":{"orient":"right","values":[-0.65,-0.6,-0.55,-0.5,-0.45,-0.4,-0.35,-0.3,-0.25,-0.2,-0.15,-0.1,-0.05,0,0.05,0.1,0.15,0.2,0.25,0.3],"labels":false,"title":null,"tickSize":{"condition":{"test":"abs(datum.value*5-round(datum.value*5))<1e-6","value":-4.5},"value":-2.5}}},"y2":{"field":"hi"}}},
{"data":{"name":"models"},"transform":[{"filter":"datum.p === 'N2O2'"}],"mark":{"type":"line","clip":true,"strokeWidth":1.3},
"encoding":{"x":{"field":"r","type":"quantitative","scale":{"domain":[-1,11],"nice":false,"zero":false},"axis":{"orient":"bottom","values":[-1,-0.5,0,0.5,1,1.5,2,2.5,3,3.5,4,4.5,5,5.5,6,6.5,7,7.5,8,8.5,9,9.5,10,10.5,11],"format":"d","labelExpr":"datum.value % 2 === 0 ? datum.label : ''","title":"r [kpc]","tickSize":{"condition":{"test":"datum.value % 2 === 0","value":-4.5},"value":-2.5}}},
"y":{"field":"v","type":"quantitative","scale":{"domain":[-0.68,0.307],"nice":false,"zero":false},"axis":{"orient":"left","values":[-0.65,-0.6,-0.55,-0.5,-0.45,-0.4,-0.35,-0.3,-0.25,-0.2,-0.15,-0.1,-0.05,0,0.05,0.1,0.15,0.2,0.25,0.3],"format":".1f","labelExpr":"abs(datum.value*5-round(datum.value*5))<1e-6 ? datum.label : ''","title":null,"tickSize":{"condition":{"test":"abs(datum.value*5-round(datum.value*5))<1e-6","value":-4.5},"value":-2.5}}},
"color":{"field":"s","type":"nominal","scale":{"domain":["A","B","C","D"],"range":["#33c3f3","#2b2be3","#ff5a28","#000000"]},"legend":null},
"strokeDash":{"field":"s","type":"nominal","scale":{"domain":["A","B","C","D"],"range":[[1,1.65],[3.7,1.6],[1,0],[1,0]]},"legend":null}}},
{"data":{"name":"models"},"transform":[{"filter":"datum.p === 'N2O2'"}],"mark":{"type":"point","clip":true,"filled":false,"size":55,"strokeWidth":1,"opacity":1},
"encoding":{"x":{"field":"r","type":"quantitative","scale":{"domain":[-1,11],"nice":false,"zero":false},"axis":null},
"y":{"field":"v","type":"quantitative","scale":{"domain":[-0.68,0.307],"nice":false,"zero":false},"axis":null},
"color":{"field":"s","type":"nominal","scale":{"domain":["A","B","C","D"],"range":["#33c3f3","#2b2be3","#ff5a28","#000000"]},"legend":null},
"shape":{"field":"s","type":"nominal","scale":{"domain":["A","B","C"],"range":["square","M0,-1.1L1.046,-0.34L0.647,0.89L-0.647,0.89L-1.046,-0.34Z","circle"]},"legend":null}}},
{"data":{"values":[{"t":"N2O2"}]},"mark":{"type":"text","align":"left","baseline":"top","dx":4,"dy":2,"fontSize":11,"color":"black"},"encoding":{"x":{"datum":-1,"type":"quantitative","scale":{"domain":[-1,11],"nice":false,"zero":false},"axis":null},"y":{"datum":0.307,"type":"quantitative","scale":{"domain":[-0.68,0.307],"nice":false,"zero":false},"axis":null},"text":{"field":"t"}}}
]}
],
"config": {
"font": "DejaVu Sans",
"view": {"stroke": "black", "strokeWidth": 1.2},
"axis": {"domain": false, "grid": false, "tickColor": "black", "tickWidth": 0.9, "labelFontSize": 10, "labelColor": "black", "labelFlush": false, "labelOverlap": false, "titleFontSize": 10, "titleFontWeight": "normal", "titleColor": "black"},
"axisX": {"labelPadding": 9, "titlePadding": 1},
"axisY": {"labelPadding": 8, "titlePadding": 4},
"legend": {"labelColor": "black"}
}
}
